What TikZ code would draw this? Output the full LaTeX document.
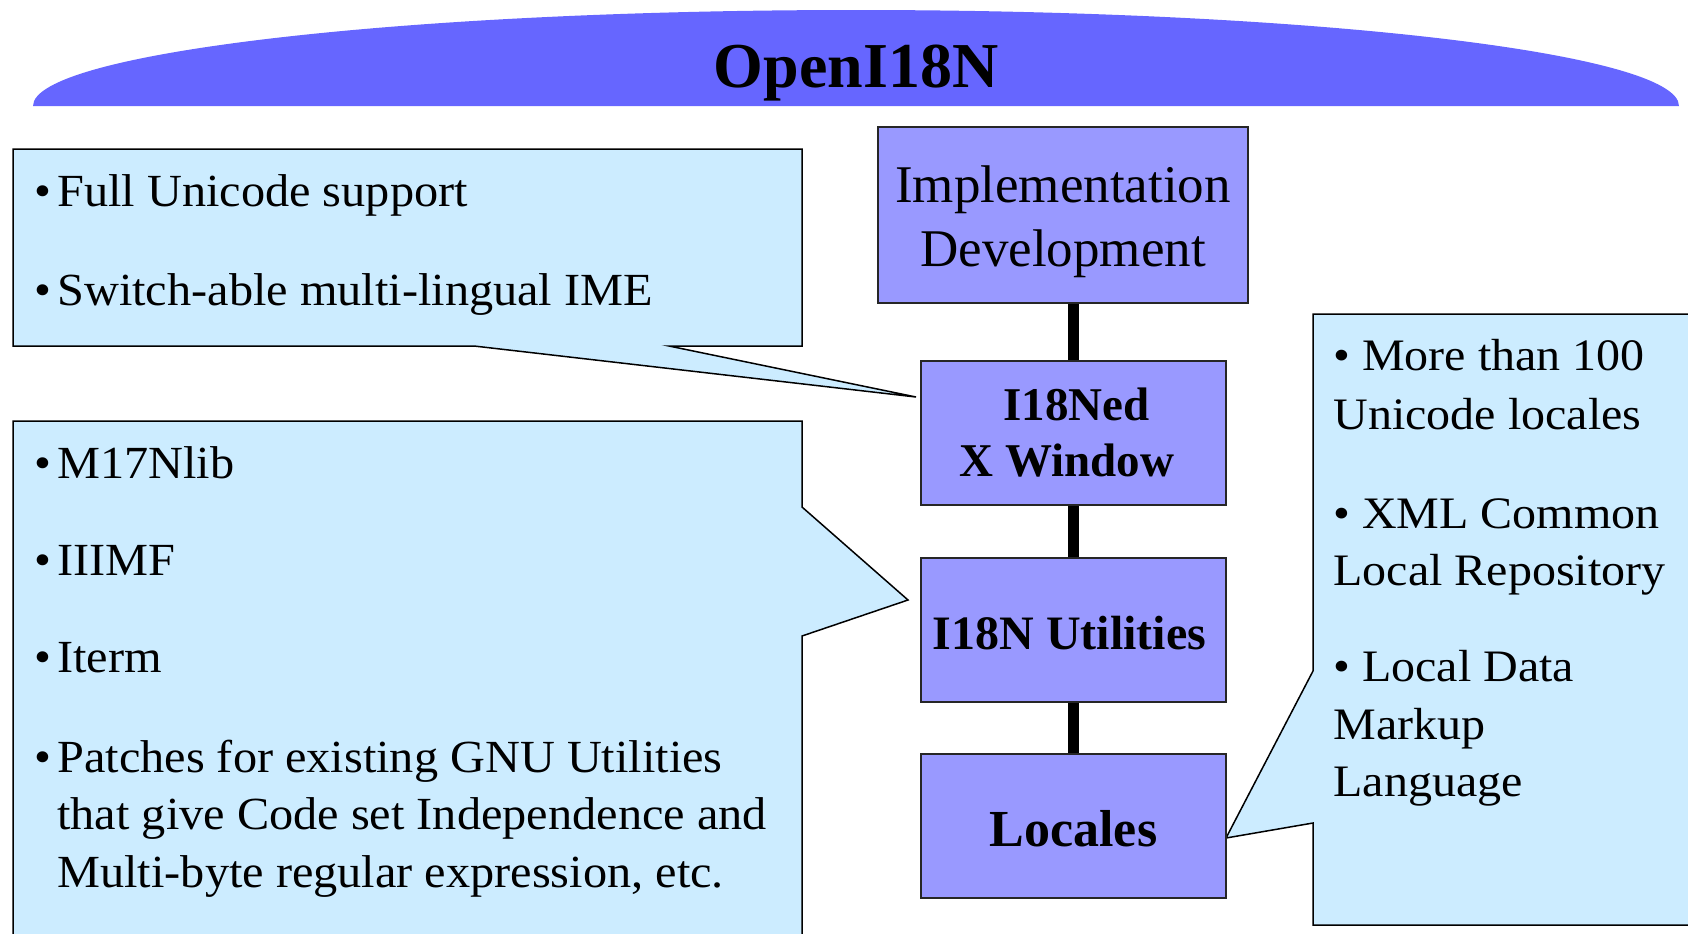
\documentclass[tikz,border=0pt]{standalone}
\usepackage{fontspec}
\setmainfont{Liberation Serif}
\newfontfamily\leftfont[FakeStretch=1.05]{Liberation Serif}
\newfontfamily\rightfont[FakeStretch=1.067]{Liberation Serif}
\definecolor{hdr}{HTML}{6666FF}
\definecolor{boxc}{HTML}{9999FF}
\definecolor{callc}{HTML}{CCECFF}
\begin{document}
\begin{tikzpicture}[x=0.5pt,y=-0.5pt,
  box/.style={draw=black!85, line width=1pt, fill=boxc, inner sep=0pt, align=center},
  callout/.style={draw=black, line width=0.75pt, fill=callc, line join=miter},
  bar/.style={line width=5.5pt, black},
  txt/.style={anchor=base west, inner sep=0pt, font=\leftfont\fontsize{23}{28}\selectfont},
  rtxt/.style={anchor=base west, inner sep=0pt, font=\rightfont\fontsize{22.5}{28}\selectfont},
]
\useasboundingbox (0,0) rectangle (1688,933);
\clip (0,0) rectangle (1688,933);
% header
\fill[hdr] (33,106) arc[start angle=180,end angle=360,x radius=823,y radius=96] -- cycle;
\node[anchor=base, inner sep=0pt, font=\fontsize{32}{38}\selectfont\bfseries] (title) at (856,87) {OpenI18N};
% callouts
\draw[callout] (13,149) -- (802,149) -- (802,346) -- (669,346) -- (916,397) -- (474,346) -- (13,346) -- cycle;
\draw[callout] (13,421) -- (802,421) -- (802,507) -- (908,600) -- (802,636) -- (802,945) -- (13,945) -- cycle;
\draw[callout] (1313,314) -- (1700,314) -- (1700,925) -- (1313,925) -- (1313,823) -- (1226,838) -- (1313,671) -- cycle;
% boxes
\node[box, minimum width=185pt, minimum height=88pt, font=\fontsize{26.5}{32}\selectfont] (impl) at (1063,215) {\rule{0pt}{25pt}Implementation\\Development};
\node[box, minimum width=152.5pt, minimum height=72pt, font=\fontsize{23.5}{28}\selectfont\bfseries] (xw) at (1073.5,433) {\rule{3pt}{0pt}I18Ned\\X Window\rule{6.5pt}{0pt}};
\node[box, minimum width=152.5pt, minimum height=72pt, text height=19.5pt, font=\fontsize{24}{28}\selectfont\bfseries] (util) at (1073.5,630) {I18N Utilities\rule{4pt}{0pt}};
\node[box, minimum width=152.5pt, minimum height=72pt, text height=21pt, font=\fontsize{26}{30}\selectfont\bfseries] (loc) at (1073.5,826) {Locales};
% bars
\draw[bar] (xw.north) -- (xw.north |- impl.south);
\draw[bar] (xw.south) -- (util.north);
\draw[bar] (util.south) -- (loc.north);
% top-left text
\node[txt] (t1) at (34,206) {•\hspace{3pt}Full Unicode support};
\node[txt] (t2) at (34,305) {•\hspace{3pt}Switch-able multi-lingual IME};
% bottom-left text
\node[txt] (b1) at (34,478) {•\hspace{3pt}M17Nlib};
\node[txt] (b2) at (34,575) {•\hspace{3pt}IIIMF};
\node[txt] (b3) at (34,672) {•\hspace{3pt}Iterm};
\node[txt] (b4) at (34,772) {•\hspace{3pt}Patches for existing GNU Utilities};
\node[txt] (b5) at (57,829) {that give Code set Independence and};
\node[txt] (b6) at (57,887) {Multi-byte regular expression, etc.};
% right text
\node[rtxt] (r1) at (1333,370) {• More than 100};
\node[rtxt] (r2) at (1333,429) {Unicode locales};
\node[rtxt] (r3) at (1333,528) {• XML Common};
\node[rtxt] (r4) at (1333,585) {Local Repository};
\node[rtxt] (r5) at (1333,681) {• Local Data};
\node[rtxt] (r6) at (1333,739) {Markup};
\node[rtxt] (r7) at (1333,796) {Language};
\end{tikzpicture}
\end{document}
